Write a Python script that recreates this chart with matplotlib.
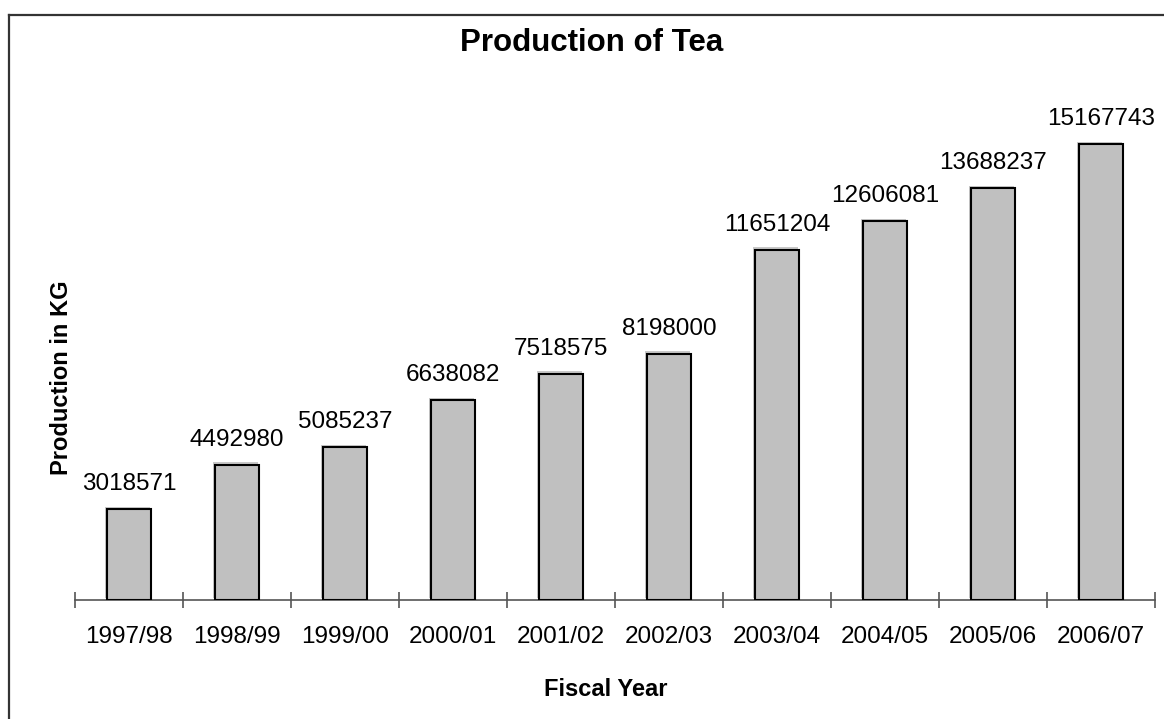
import numpy as np
import matplotlib
matplotlib.use("Agg")
import matplotlib.pyplot as plt
import matplotlib.patheffects as pe
from matplotlib.lines import Line2D

plt.rcParams['font.family'] = ['Liberation Sans', 'DejaVu Sans']

years = ['1997/98', '1998/99', '1999/00', '2000/01', '2001/02',
         '2002/03', '2003/04', '2004/05', '2005/06', '2006/07']
production = [3018571, 4492980, 5085237, 6638082, 7518575,
              8198000, 11651204, 12606081, 13688237, 15167743]

W, H = 1164, 719
PT = 72 / 100  # points per pixel at 100 dpi
fig = plt.figure(figsize=(W / 100, H / 100), dpi=100)
fig.patch.set_facecolor('white')

# plot area in pixel terms: x from 75 to 1155, baseline at y=600
ax_left, ax_right, ax_base, ax_top = 75, 1155, 600, 119
ax = fig.add_axes([ax_left / W, (H - ax_base) / H,
                   (ax_right - ax_left) / W, (ax_base - ax_top) / H])

x = np.arange(len(years))
bars = ax.bar(x, production, width=0.41, color='#c0c0c0', edgecolor='black',
              linewidth=1.5, zorder=3)
# faint light edge up and to the left of each bar
for b in bars:
    b.set_path_effects([pe.SimplePatchShadow(offset=(-1.5 * PT, 2.5 * PT),
                                             shadow_rgbFace='#c8c8c8', alpha=1),
                        pe.Normal()])

for xi, v in zip(x, production):
    ax.annotate(str(v), (xi, v), xytext=(0, 19 * PT), textcoords='offset points',
                ha='center', va='baseline', fontsize=17.5)

ax.set_xlim(-0.5, len(years) - 0.5)
ax.set_ylim(0, 16e6)

# category boundary ticks crossing the axis, labels at bar centres
ax.set_xticks(np.arange(len(years) + 1) - 0.5)
ax.set_xticklabels([])
ax.set_xticks(x, minor=True)
ax.set_xticklabels(years, minor=True, fontsize=17.5)
ax.tick_params(axis='x', which='major', direction='inout', length=16 * PT,
               width=1.2, color='#555555')
ax.tick_params(axis='x', which='minor', length=0, pad=26 * PT)
ax.set_yticks([])

for side in ['top', 'right', 'left']:
    ax.spines[side].set_visible(False)
ax.spines['bottom'].set_color('#555555')
ax.spines['bottom'].set_linewidth(1.2)

ax_w = ax_right - ax_left
ax_h = ax_base - ax_top
ax.set_xlabel('Fiscal Year', fontsize=17, fontweight='bold')
ax.xaxis.set_label_coords((606 - ax_left) / ax_w, -(690 - ax_base) / ax_h)
ax.xaxis.label.set_va('center')
ax.set_ylabel('Production in KG', fontsize=17, fontweight='bold')
ax.yaxis.set_label_coords(-(ax_left - 62) / ax_w, (ax_base - 378) / ax_h)
ax.yaxis.label.set_va('center')

fig.text(592 / W, 1 - 43 / H, 'Production of Tea', ha='center', va='center',
         fontsize=22.5, fontweight='bold')

# chart border (left and top edges only fall inside the image)
fig.add_artist(Line2D([8.5 / W, 8.5 / W], [0, 1 - 14.5 / H], transform=fig.transFigure,
                      color='#333333', linewidth=1.6))
fig.add_artist(Line2D([8.5 / W, 1], [1 - 14.5 / H, 1 - 14.5 / H], transform=fig.transFigure,
                      color='#333333', linewidth=1.6))

fig.savefig('out.png', dpi=100)
